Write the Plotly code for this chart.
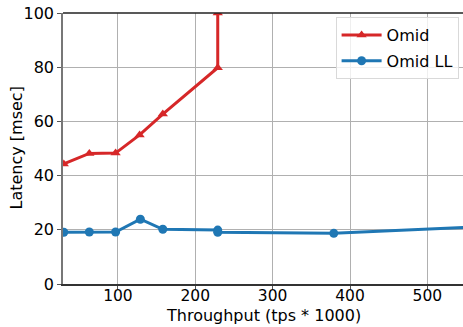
import plotly.graph_objects as go

omid_x = [30, 63, 97, 128, 158, 229, 229]
omid_y = [44.3, 48.2, 48.3, 55.0, 62.7, 79.8, 100.0]

ll_x = [30, 63, 97, 129, 158, 229, 229, 379, 600]
ll_y = [19.1, 19.2, 19.2, 23.9, 20.2, 19.9, 19.1, 18.7, 21.6]

x_ticks = [100, 200, 300, 400, 500]
y_ticks = [0, 20, 40, 60, 80, 100]

font = "DejaVu Sans, sans-serif"

fig = go.Figure()
fig.add_trace(go.Scatter(x=omid_x, y=omid_y, mode="lines+markers", name="Omid",
                         legendgroup="a",
                         line=dict(color="#d62728", width=3),
                         marker=dict(symbol="triangle-up", size=9, color="#d62728")))
fig.add_trace(go.Scatter(x=ll_x, y=ll_y, mode="lines+markers", name="Omid LL",
                         legendgroup="b",
                         line=dict(color="#1f77b4", width=3),
                         marker=dict(symbol="circle", size=9, color="#1f77b4")))

fig.update_layout(
    width=463, height=327,
    margin=dict(l=63, r=0, t=13, b=43, autoexpand=False),
    paper_bgcolor="white", plot_bgcolor="white",
    font=dict(family=font, size=16, color="black"),
    showlegend=True,
    legend=dict(x=0.989, y=0.985, xanchor="right", yanchor="top",
                bgcolor="rgba(255,255,255,0.8)", bordercolor="#d9d9d9", borderwidth=1,
                font=dict(size=16, family=font), tracegroupgap=2, itemwidth=40),
    annotations=[
        dict(text="Throughput (tps * 1000)", xref="paper", yref="paper", x=0.5, y=-0.1175,
             xanchor="center", yanchor="middle", showarrow=False, font=dict(size=16)),
        dict(text="Latency [msec]", xref="paper", yref="paper", x=-0.1175, y=0.5,
             xanchor="center", yanchor="middle", textangle=-90, showarrow=False,
             font=dict(size=16)),
    ],
)
fig.update_xaxes(range=[29, 546], tickvals=x_ticks, showgrid=True, gridcolor="#b0b0b0",
                 gridwidth=1, zeroline=False, showline=True, linecolor="#333333", linewidth=1.5,
                 mirror=False, ticks="outside", ticklen=3, tickcolor="#555555",
                 tickfont=dict(size=15.5), automargin=False, ticklabelstandoff=-6)
fig.update_yaxes(range=[0, 100], tickvals=y_ticks, showgrid=True, gridcolor="#b0b0b0",
                 gridwidth=1, zeroline=False, showline=True, linecolor="#777777", linewidth=1.5,
                 ticks="outside", ticklen=4, tickcolor="#555555",
                 tickfont=dict(size=16), automargin=False)
fig.add_shape(type="line", xref="paper", yref="paper", x0=0, x1=1, y0=1, y1=1,
              line=dict(color="#222222", width=1.5))

fig.write_html("out.html", config={"displayModeBar": False},
               post_script="document.body.style.margin='0';")
